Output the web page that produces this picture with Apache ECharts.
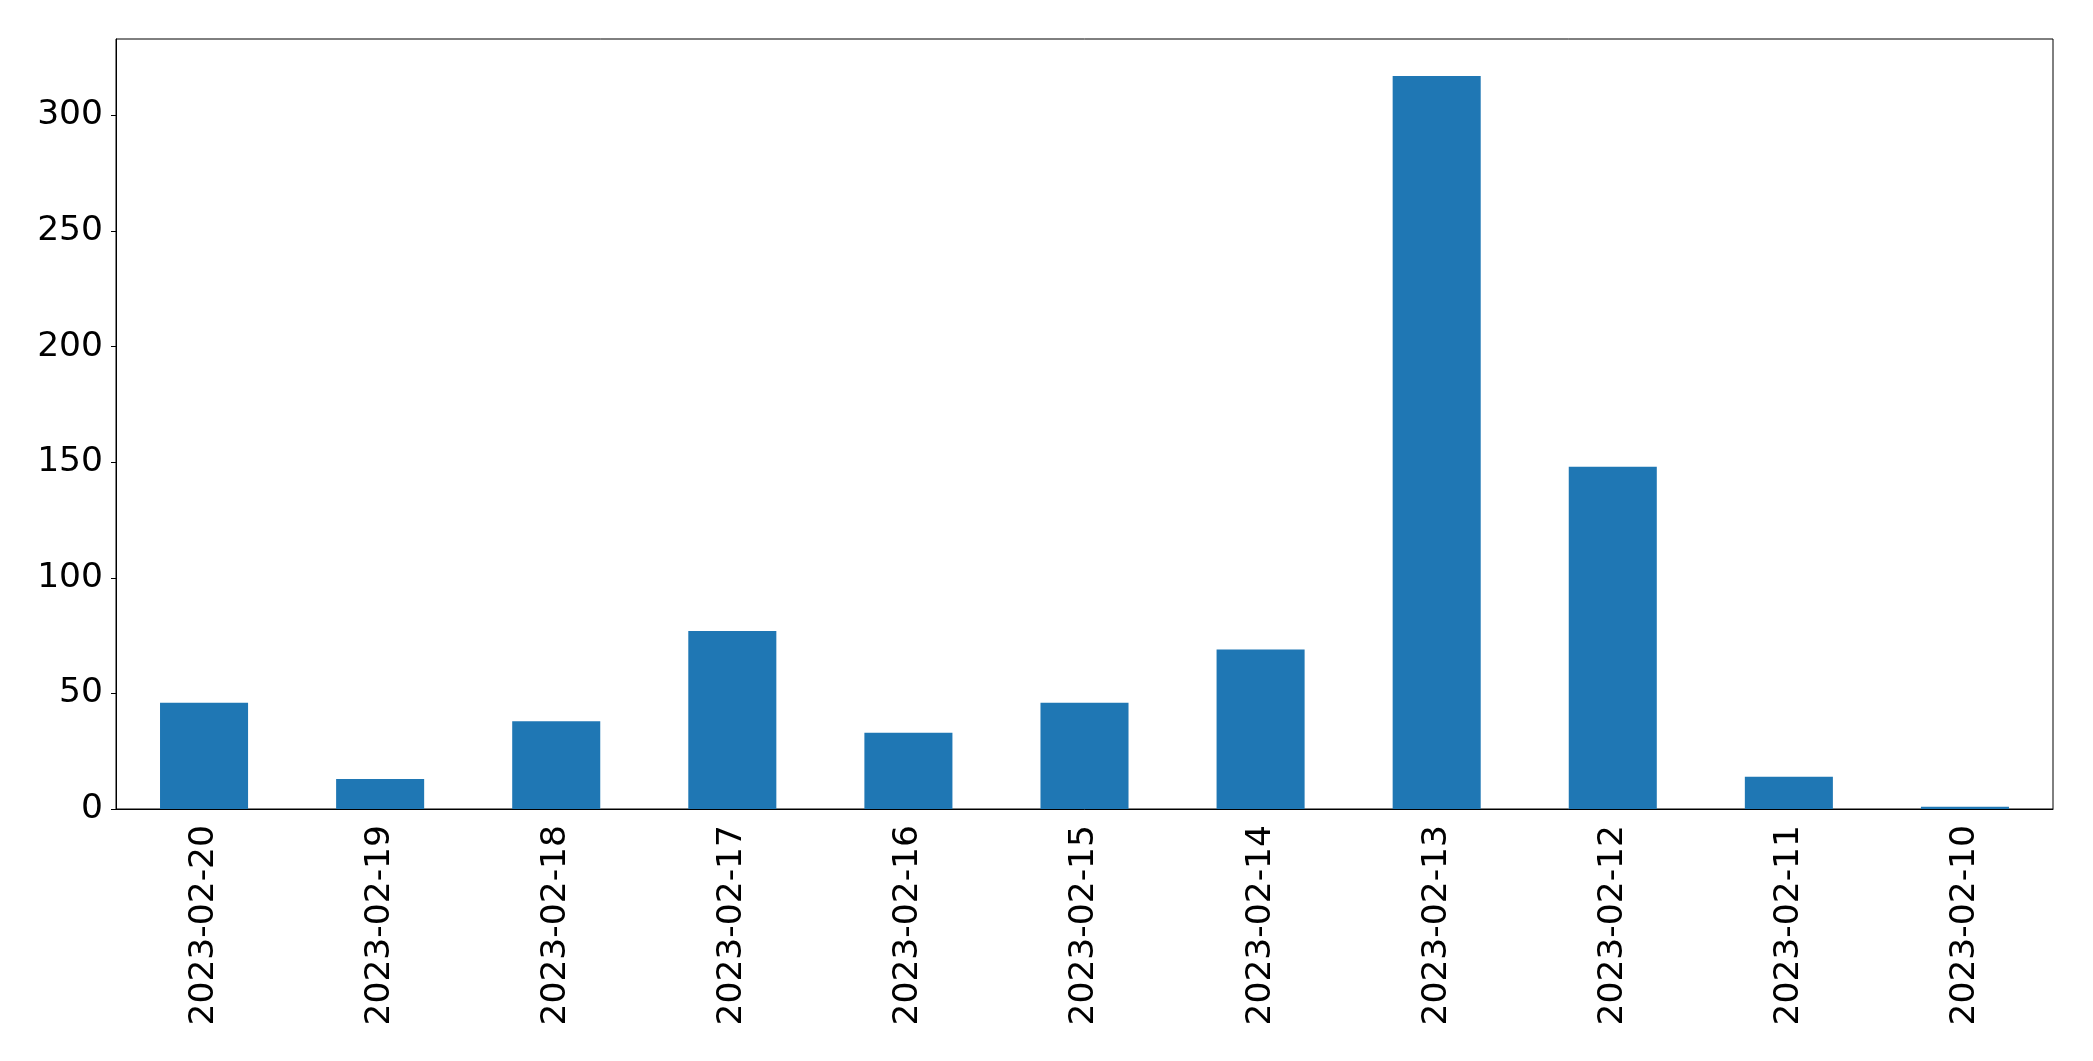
<!DOCTYPE html>
<html>
<head>
<meta charset="utf-8">
<script src="https://cdn.jsdelivr.net/npm/echarts@6/dist/echarts.min.js"></script>
<style>
  html, body { margin: 0; padding: 0; background: #fff; }
  #chart { width: 2093px; height: 1061px; }
</style>
</head>
<body>
<div id="chart"></div>
<script>
const dates = ['2023-02-20', '2023-02-19', '2023-02-18', '2023-02-17', '2023-02-16', '2023-02-15',
  '2023-02-14', '2023-02-13', '2023-02-12', '2023-02-11', '2023-02-10']
const counts = [46, 13, 38, 77, 33, 46, 69, 317, 148, 14, 1]
const yTicks = [0, 50, 100, 150, 200, 250, 300]

const chart = echarts.init(document.getElementById('chart'))

const font = { fontFamily: 'DejaVu Sans', fontSize: 34.5, color: '#000' }

const option = {
  animation: false,
  grid: {
    left: 116,
    right: 40,
    top: 39,
    bottom: 252,
    show: true,
    borderColor: '#000',
    borderWidth: 1
  },
  xAxis: {
    type: 'category',
    data: dates,
    axisLine: { lineStyle: { color: '#000', width: 1 } },
    axisTick: { alignWithLabel: true, length: 5, lineStyle: { color: '#000' } },
    axisLabel: { ...font, rotate: 90, margin: 16 },
    splitLine: { show: false }
  },
  yAxis: {
    type: 'value',
    min: 0,
    max: 333,
    axisLine: { show: true, lineStyle: { color: '#000', width: 1 } },
    axisTick: { show: true, length: 5, customValues: yTicks, lineStyle: { color: '#000' } },
    axisLabel: { ...font, margin: 13, padding: [7, 0, 0, 0], customValues: yTicks },
    splitLine: { show: false }
  },
  series: [
    {
      type: 'bar',
      data: counts,
      barWidth: '50%',
      itemStyle: { color: '#1f77b4' }
    }
  ]
}

chart.setOption(option)
</script>
</body>
</html>
